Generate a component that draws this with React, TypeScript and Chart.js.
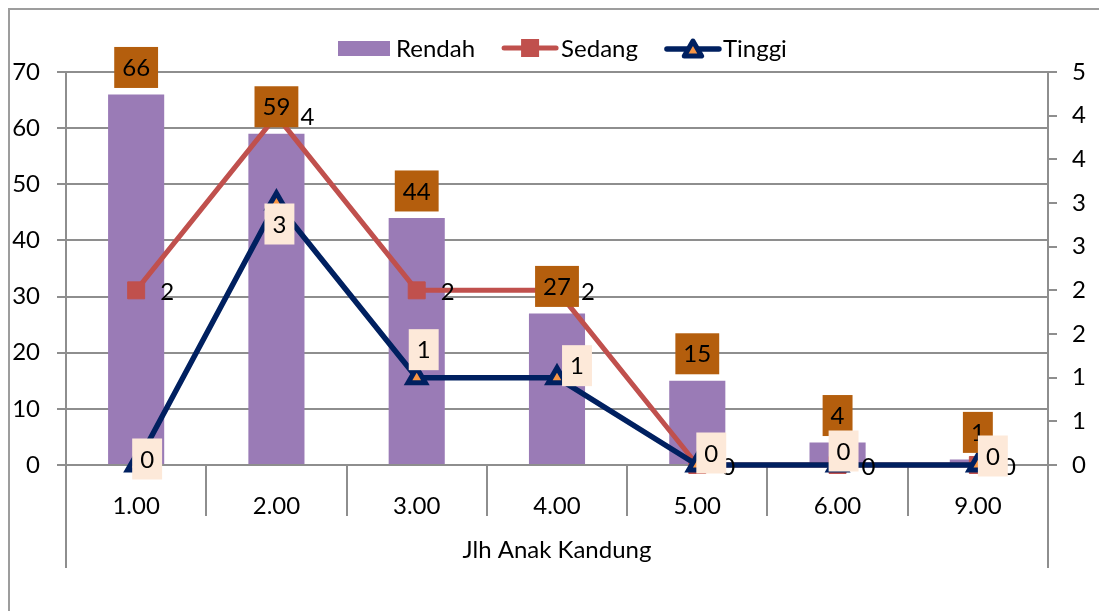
import React, { useEffect, useRef } from 'react';
import { Chart, registerables } from 'chart.js';

Chart.register(...registerables);

// ---- data ----
const categories = ['1.00', '2.00', '3.00', '4.00', '5.00', '6.00', '9.00'];
const rendah = [66, 59, 44, 27, 15, 4, 1];
const sedang = [2, 4, 2, 2, 0, 0, 0];
const tinggi = [0, 3, 1, 1, 0, 0, 0];
const leftAxis = { min: 0, max: 70, step: 10 };
const rightAxis = { min: 0, max: 4.5, step: 0.5 };
const seriesNames = ['Rendah', 'Sedang', 'Tinggi'];
const xTitle = 'Jlh Anak Kandung';

// ---- style ----
const FONT_FAMILY = 'Lato, "Noto Sans", sans-serif';
const FS = 24;
const C = {
  rendah: '#9a7bb6',
  sedang: '#c0504d',
  tinggi: '#002060',
  tinggiFill: '#f79646',
  barLabel: '#b45e0d',
  tinggiLabel: '#fde9d9',
  grid: '#8e8e8e',
  text: '#000000',
};
// manual label placement (dx, dy from point), as in the source chart
const TINGGI_LABEL_OFFSETS = [[11, -6], [3, 21], [7, -28], [20, -12], [14, -12], [6, -14], [15, -9]];

function font(ctx: CanvasRenderingContext2D) {
  ctx.font = `${FS}px ${FONT_FAMILY}`;
}

function drawTriangle(ctx: CanvasRenderingContext2D, x: number, y: number, r: number, lw: number) {
  ctx.beginPath();
  ctx.moveTo(x, y - r);
  ctx.lineTo(x + r * Math.sin(Math.PI / 3), y + r / 2);
  ctx.lineTo(x - r * Math.sin(Math.PI / 3), y + r / 2);
  ctx.closePath();
  ctx.fillStyle = C.tinggiFill;
  ctx.fill();
  ctx.lineWidth = lw;
  ctx.strokeStyle = C.tinggi;
  ctx.lineJoin = 'round';
  ctx.stroke();
}

const decorPlugin = {
  id: 'decor',
  beforeDatasetsDraw(chart: any) {
    const ctx: CanvasRenderingContext2D = chart.ctx;
    const a = chart.chartArea;
    const n = categories.length;
    const w = (a.right - a.left) / n;
    ctx.save();
    ctx.strokeStyle = C.grid;
    ctx.lineWidth = 2;
    for (let i = 0; i <= n; i++) {
      const px = Math.round(a.left + i * w);
      const end = i === 0 || i === n ? a.bottom + 103 : a.bottom + 51;
      ctx.beginPath();
      ctx.moveTo(px, a.bottom);
      ctx.lineTo(px, end);
      ctx.stroke();
    }
    ctx.restore();
  },
  afterDatasetsDraw(chart: any) {
    const ctx: CanvasRenderingContext2D = chart.ctx;
    ctx.save();
    font(ctx);
    ctx.textAlign = 'center';
    ctx.textBaseline = 'alphabetic';
    const capHalf = FS * 0.36;
    // bar labels
    const m0 = chart.getDatasetMeta(0);
    rendah.forEach((v, i) => {
      const el = m0.data[i];
      const t = String(v);
      const tw = ctx.measureText(t).width;
      const bw = tw + 16;
      const bh = 41;
      const cy = el.y - 27;
      ctx.fillStyle = C.barLabel;
      ctx.fillRect(el.x - bw / 2, cy - bh / 2, bw, bh);
      ctx.fillStyle = C.text;
      ctx.fillText(t, el.x, cy + capHalf);
    });
    // sedang labels
    const m1 = chart.getDatasetMeta(1);
    sedang.forEach((v, i) => {
      const el = m1.data[i];
      ctx.fillStyle = C.text;
      ctx.fillText(String(v), el.x + 31, el.y + 1 + capHalf);
    });
    // tinggi labels
    const m2 = chart.getDatasetMeta(2);
    tinggi.forEach((v, i) => {
      const el = m2.data[i];
      const [dx, dy] = TINGGI_LABEL_OFFSETS[i];
      const t = String(v);
      const tw = ctx.measureText(t).width;
      const bw = tw + 16;
      const bh = 41;
      const cx = el.x + dx;
      const cy = el.y + dy;
      ctx.fillStyle = C.tinggiLabel;
      ctx.fillRect(cx - bw / 2, cy - bh / 2, bw, bh);
      ctx.fillStyle = C.text;
      ctx.fillText(t, cx, cy + capHalf);
    });
    ctx.restore();
  },
  afterDraw(chart: any) {
    const ctx: CanvasRenderingContext2D = chart.ctx;
    ctx.save();
    font(ctx);
    ctx.textAlign = 'left';
    ctx.textBaseline = 'alphabetic';
    const cy = 38;
    const base = cy + FS * 0.36;
    let x = 328;
    // Rendah
    ctx.fillStyle = C.rendah;
    ctx.fillRect(x, cy - 7, 52, 15);
    x += 58;
    ctx.fillStyle = C.text;
    ctx.fillText(seriesNames[0], x, base);
    x += ctx.measureText(seriesNames[0]).width + 27;
    // Sedang
    ctx.strokeStyle = C.sedang;
    ctx.lineWidth = 5;
    ctx.lineCap = 'round';
    ctx.beginPath();
    ctx.moveTo(x + 2, cy);
    ctx.lineTo(x + 54, cy);
    ctx.stroke();
    ctx.fillStyle = C.sedang;
    ctx.fillRect(x + 28 - 9, cy - 9, 18, 18);
    x += 59;
    ctx.fillStyle = C.text;
    ctx.fillText(seriesNames[1], x, base);
    x += ctx.measureText(seriesNames[1]).width + 27;
    // Tinggi
    ctx.strokeStyle = C.tinggi;
    ctx.lineWidth = 5.5;
    ctx.beginPath();
    ctx.moveTo(x + 2, cy + 1);
    ctx.lineTo(x + 54, cy + 1);
    ctx.stroke();
    drawTriangle(ctx, x + 28, cy + 3, 10, 5);
    x += 58;
    ctx.fillStyle = C.text;
    ctx.fillText(seriesNames[2], x, base);
    ctx.restore();
  },
};

export default function App() {
  const ref = useRef<HTMLCanvasElement | null>(null);
  useEffect(() => {
    if (!ref.current) return;
    const fontOpt = { family: FONT_FAMILY, size: FS };
    const chart = new Chart(ref.current, {
      type: 'bar',
      data: {
        labels: categories,
        datasets: [
          {
            type: 'bar',
            label: seriesNames[0],
            data: rendah,
            backgroundColor: C.rendah,
            yAxisID: 'y',
            barPercentage: 0.4,
            categoryPercentage: 1,
            order: 2,
          } as any,
          {
            type: 'line',
            label: seriesNames[1],
            data: sedang,
            yAxisID: 'y1',
            borderColor: C.sedang,
            borderWidth: 5,
            borderJoinStyle: 'round',
            borderCapStyle: 'round',
            pointStyle: 'rect',
            pointRadius: 12,
            pointBackgroundColor: C.sedang,
            pointBorderColor: C.sedang,
            pointBorderWidth: 1,
            tension: 0,
            clip: false,
            order: 1,
          } as any,
          {
            type: 'line',
            label: seriesNames[2],
            data: tinggi,
            yAxisID: 'y1',
            borderColor: C.tinggi,
            borderWidth: 5.5,
            borderJoinStyle: 'round',
            borderCapStyle: 'round',
            pointStyle: 'triangle',
            pointRadius: 10,
            pointBackgroundColor: C.tinggiFill,
            pointBorderColor: C.tinggi,
            pointBorderWidth: 5,
            tension: 0,
            clip: false,
            order: 0,
          } as any,
        ],
      },
      options: {
        responsive: false,
        animation: false,
        layout: { padding: { top: 62, left: 0, right: 0, bottom: 0 } },
        plugins: {
          legend: { display: false },
          tooltip: { enabled: false },
        },
        scales: {
          x: {
            type: 'category',
            offset: true,
            grid: { display: false },
            border: { display: false },
            ticks: { font: fontOpt, color: C.text, padding: 19, maxRotation: 0, autoSkip: false },
            title: {
              display: true,
              text: xTitle,
              font: fontOpt,
              color: C.text,
              padding: { top: 0, bottom: 46 },
            },
            afterFit: (s: any) => {
              s.height = 146;
            },
          },
          y: {
            position: 'left',
            min: leftAxis.min,
            max: leftAxis.max,
            ticks: { stepSize: leftAxis.step, font: fontOpt, color: C.text, padding: 17 },
            grid: { color: C.grid, lineWidth: 2, tickLength: 9 },
            border: { display: true, color: C.grid, width: 2 },
            afterFit: (s: any) => {
              s.width = 56;
            },
          },
          y1: {
            position: 'right',
            min: rightAxis.min,
            max: rightAxis.max,
            ticks: {
              stepSize: rightAxis.step,
              font: fontOpt,
              color: C.text,
              padding: 15,
              callback: (v: any) => String(Math.round(Number(v))),
            },
            grid: { drawOnChartArea: false, color: C.grid, lineWidth: 2, tickLength: 9 },
            border: { display: true, color: C.grid, width: 2 },
            afterFit: (s: any) => {
              s.width = 51;
            },
          },
        },
      } as any,
      plugins: [decorPlugin],
    });
    return () => chart.destroy();
  }, []);

  return (
    <div
      style={{
        position: 'fixed',
        left: 8,
        top: 8,
        width: 1089,
        height: 601,
        borderTop: '2px solid #9d9d9d',
        borderLeft: '2px solid #9d9d9d',
        background: '#ffffff',
      }}
    >
      <canvas ref={ref} width={1089} height={601} style={{ display: 'block' }} />
    </div>
  );
}
